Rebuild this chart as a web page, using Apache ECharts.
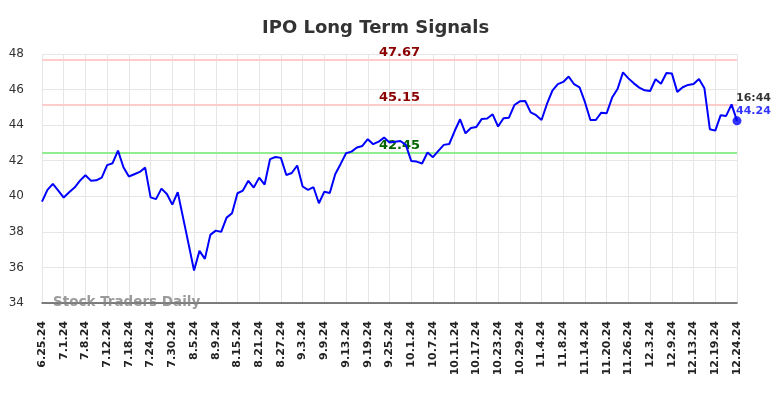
<!DOCTYPE html>
<html>
<head>
<meta charset="utf-8">
<script src="https://cdn.jsdelivr.net/npm/echarts@6/dist/echarts.min.js"></script>
<style>
  html, body { margin: 0; padding: 0; background: #fff; }
  #chart { width: 784px; height: 398px; }
</style>
</head>
<body>
<div id="chart"></div>
<script>
// trading days, last point is the intraday reading
const dates = [
  '6.25.24','6.26.24','6.27.24','6.28.24',
  '7.1.24','7.2.24','7.3.24','7.5.24','7.8.24','7.9.24','7.10.24','7.11.24','7.12.24','7.15.24','7.16.24','7.17.24','7.18.24','7.19.24','7.22.24','7.23.24','7.24.24','7.25.24','7.26.24','7.29.24','7.30.24','7.31.24',
  '8.1.24','8.2.24','8.5.24','8.6.24','8.7.24','8.8.24','8.9.24','8.12.24','8.13.24','8.14.24','8.15.24','8.16.24','8.19.24','8.20.24','8.21.24','8.22.24','8.23.24','8.26.24','8.27.24','8.28.24','8.29.24','8.30.24',
  '9.3.24','9.4.24','9.5.24','9.6.24','9.9.24','9.10.24','9.11.24','9.12.24','9.13.24','9.16.24','9.17.24','9.18.24','9.19.24','9.20.24','9.23.24','9.24.24','9.25.24','9.26.24','9.27.24','9.30.24',
  '10.1.24','10.2.24','10.3.24','10.4.24','10.7.24','10.8.24','10.9.24','10.10.24','10.11.24','10.14.24','10.15.24','10.16.24','10.17.24','10.18.24','10.21.24','10.22.24','10.23.24','10.24.24','10.25.24','10.28.24','10.29.24','10.30.24','10.31.24',
  '11.1.24','11.4.24','11.5.24','11.6.24','11.7.24','11.8.24','11.11.24','11.12.24','11.13.24','11.14.24','11.15.24','11.18.24','11.19.24','11.20.24','11.21.24','11.22.24','11.25.24','11.26.24','11.27.24','11.29.24',
  '12.2.24','12.3.24','12.4.24','12.5.24','12.6.24','12.9.24','12.10.24','12.11.24','12.12.24','12.13.24','12.16.24','12.17.24','12.18.24','12.19.24','12.20.24','12.23.24','12.24.24','12.24.24 16:44'
];

const prices = [
  39.70, 40.36, 40.70, 40.32, 39.93, 40.23, 40.49, 40.88, 41.18, 40.88,
  40.90, 41.05, 41.75, 41.86, 42.57, 41.63, 41.11, 41.24, 41.37, 41.61,
  39.94, 39.84, 40.43, 40.13, 39.53, 40.23, 38.77, 37.31, 35.83, 36.93,
  36.48, 37.83, 38.07, 38.00, 38.80, 39.05, 40.17, 40.32, 40.87, 40.49,
  41.05, 40.66, 42.09, 42.21, 42.16, 41.20, 41.31, 41.73, 40.55, 40.36,
  40.51, 39.61, 40.26, 40.19, 41.24, 41.82, 42.42, 42.51, 42.74, 42.83,
  43.21, 42.93, 43.07, 43.30, 43.02, 43.06, 43.11, 42.89, 41.99, 41.95,
  41.84, 42.46, 42.20, 42.55, 42.89, 42.94, 43.67, 44.33, 43.54, 43.84,
  43.90, 44.35, 44.37, 44.61, 43.92, 44.39, 44.42, 45.13, 45.34, 45.36,
  44.72, 44.56, 44.29, 45.19, 45.94, 46.31, 46.43, 46.73, 46.30, 46.13,
  45.29, 44.29, 44.29, 44.70, 44.67, 45.55, 46.03, 46.97, 46.63, 46.35,
  46.11, 45.96, 45.92, 46.58, 46.33, 46.93, 46.91, 45.87, 46.13, 46.26,
  46.31, 46.60, 46.07, 43.77, 43.69, 44.56, 44.52, 45.17, 44.24
];

// signal levels
const upperLevels = [47.67, 45.15];
const lowerLevels = [42.45];
const lastTime = '16:44';

const yMin = 34, yMax = 48, yStep = 2;

const font = 'DejaVu Sans';
const chart = echarts.init(document.getElementById('chart'), null, { renderer: 'canvas' });

const lastIdx = prices.length - 1;

const markLines = [
  ...upperLevels.map(v => ({
    yAxis: v,
    lineStyle: { color: '#ffcccc', width: 2, type: 'solid' },
    label: { color: '#8b0000' }
  })),
  ...lowerLevels.map(v => ({
    yAxis: v,
    lineStyle: { color: '#90ee90', width: 2, type: 'solid' },
    label: { color: '#006400' }
  }))
];

chart.setOption({
  animation: false,
  backgroundColor: '#fff',
  title: {
    text: 'IPO Long Term Signals',
    left: 257,
    top: 14,
    textStyle: { fontFamily: font, fontSize: 18, fontWeight: 'bold', color: '#333' }
  },
  grid: { left: 42, right: 47, top: 54, bottom: 95 },
  xAxis: {
    type: 'category',
    data: dates,
    boundaryGap: false,
    axisLine: { lineStyle: { color: '#555', width: 1.5 } },
    axisTick: { show: false },
    axisLabel: {
      interval: 3,
      rotate: 90,
      margin: 18,
      fontFamily: font,
      fontSize: 11,
      fontWeight: 'bold',
      color: '#222',
      formatter: v => v.split(' ')[0]
    },
    splitLine: { show: true, interval: 3, lineStyle: { color: '#e6e6e6', width: 1 } }
  },
  yAxis: {
    type: 'value',
    min: yMin,
    max: yMax,
    interval: yStep,
    axisLine: { show: false },
    axisTick: { show: false },
    axisLabel: { margin: 18, fontFamily: font, fontSize: 12, color: '#333' },
    splitLine: { lineStyle: { color: '#e6e6e6', width: 1 } }
  },
  graphic: [{
    type: 'text',
    left: 53,
    top: 295,
    z: 100,
    style: {
      text: 'Stock Traders Daily',
      fontFamily: font,
      fontSize: 13.5,
      fontWeight: 'bold',
      fill: 'rgba(130,130,130,0.8)'
    }
  }],
  series: [{
    type: 'line',
    data: prices,
    symbol: 'none',
    lineStyle: { color: '#0000ff', width: 2 },
    z: 5,
    markLine: {
      silent: true,
      symbol: 'none',
      z: 2,
      label: {
        position: 'middle',
        distance: 1,
        offset: [10, 0],
        fontFamily: font,
        fontSize: 13,
        fontWeight: 'bold',
        formatter: p => p.value.toFixed(2)
      },
      data: markLines
    }
  }, {
    type: 'scatter',
    data: [[lastIdx, prices[lastIdx]]],
    symbolSize: 9,
    itemStyle: { color: '#0000ff' },
    z: 6,
    label: {
      show: true,
      position: 'top',
      align: 'left',
      offset: [-1, 6],
      fontFamily: font,
      fontWeight: 'bold',
      fontSize: 11,
      lineHeight: 13,
      formatter: p => '{t|' + lastTime + '}\n{v|' + p.value[1].toFixed(2) + '}',
      rich: {
        t: { color: '#000', fontFamily: font, fontWeight: 'bold', fontSize: 11, lineHeight: 13 },
        v: { color: '#0000ff', fontFamily: font, fontWeight: 'bold', fontSize: 11, lineHeight: 13 }
      }
    }
  }]
});
</script>
</body>
</html>
